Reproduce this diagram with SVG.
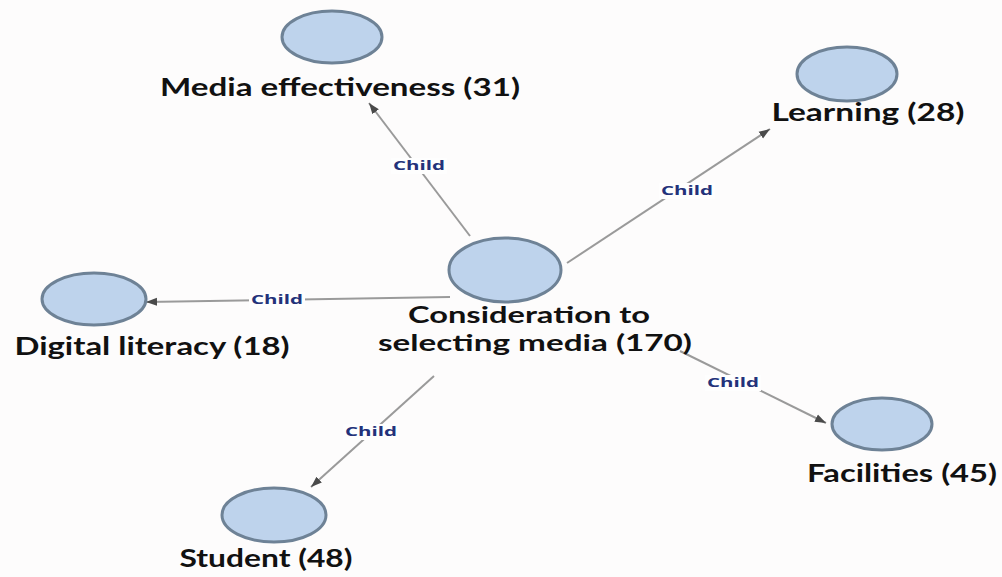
<svg xmlns="http://www.w3.org/2000/svg" width="1002" height="577" viewBox="0 0 1002 577">
  <style>
    .node ellipse { fill: #bed3ec; stroke: #6e8296; stroke-width: 3; }
    .node text { font-family: Lato, "Open Sans", "Liberation Sans", sans-serif; font-weight: 700; font-size: 25px; fill: #111; text-anchor: middle; }
    .node text.two-line { font-size: 23px; }
    .edge line { stroke: #9a9a9a; stroke-width: 2; fill: none; }
    .edge rect { fill: #fefefe; }
    .edge text { font-family: "Open Sans", "Liberation Sans", sans-serif; font-weight: 700; font-size: 13px; fill: #23327a; text-anchor: middle; }
  </style>
  <defs>
    <marker id="arrow" markerUnits="userSpaceOnUse" markerWidth="12" markerHeight="10" refX="11" refY="5" orient="auto">
      <path d="M0,1 L11,5 L0,9 Z" fill="#4a4a4a"/>
    </marker>
  </defs>

  <rect width="1002" height="577" fill="#fdfcfc"/>

  <!-- connectors: parent to each child category -->
  <g id="connectors">
    <g class="edge" id="edge-media">
      <line x1="470" y1="236" x2="369" y2="103" marker-end="url(#arrow)"/>
      <rect x="391" y="158" width="56" height="16"/>
      <text x="419" y="170" textLength="52" lengthAdjust="spacingAndGlyphs">Child</text>
    </g>
    <g class="edge" id="edge-learning">
      <line x1="567" y1="263" x2="770" y2="129" marker-end="url(#arrow)"/>
      <rect x="659" y="183" width="56" height="16"/>
      <text x="687" y="195" textLength="52" lengthAdjust="spacingAndGlyphs">Child</text>
    </g>
    <g class="edge" id="edge-digital">
      <line x1="450" y1="297" x2="146" y2="302" marker-end="url(#arrow)"/>
      <rect x="249" y="292" width="56" height="16"/>
      <text x="277" y="304" textLength="52" lengthAdjust="spacingAndGlyphs">Child</text>
    </g>
    <g class="edge" id="edge-student">
      <line x1="434" y1="376" x2="311" y2="487" marker-end="url(#arrow)"/>
      <rect x="343" y="424" width="56" height="16"/>
      <text x="371" y="436" textLength="52" lengthAdjust="spacingAndGlyphs">Child</text>
    </g>
    <g class="edge" id="edge-facilities">
      <line x1="680" y1="351" x2="826" y2="423" marker-end="url(#arrow)"/>
      <rect x="705" y="375" width="56" height="16"/>
      <text x="733" y="387" textLength="52" lengthAdjust="spacingAndGlyphs">Child</text>
    </g>
  </g>

  <!-- nodes -->
  <g class="node" id="node-center">
    <ellipse cx="505" cy="270" rx="56" ry="32"/>
    <text class="two-line" x="529" y="323" textLength="242" lengthAdjust="spacingAndGlyphs">Consideration to</text>
    <text class="two-line" x="535" y="351" textLength="314" lengthAdjust="spacingAndGlyphs">selecting media (170)</text>
  </g>
  <g class="node" id="node-media">
    <ellipse cx="332" cy="37" rx="50" ry="26"/>
    <text x="340" y="96" textLength="360" lengthAdjust="spacingAndGlyphs">Media effectiveness (31)</text>
  </g>
  <g class="node" id="node-learning">
    <ellipse cx="847" cy="74" rx="50" ry="27"/>
    <text x="868" y="121" textLength="193" lengthAdjust="spacingAndGlyphs">Learning (28)</text>
  </g>
  <g class="node" id="node-digital">
    <ellipse cx="94" cy="299" rx="52" ry="26"/>
    <text x="152" y="355" textLength="275" lengthAdjust="spacingAndGlyphs">Digital literacy (18)</text>
  </g>
  <g class="node" id="node-facilities">
    <ellipse cx="882" cy="424" rx="50" ry="26"/>
    <text x="902" y="482" textLength="190" lengthAdjust="spacingAndGlyphs">Facilities (45)</text>
  </g>
  <g class="node" id="node-student">
    <ellipse cx="274" cy="515" rx="52" ry="27"/>
    <text x="266" y="567" textLength="173" lengthAdjust="spacingAndGlyphs">Student (48)</text>
  </g>
</svg>
